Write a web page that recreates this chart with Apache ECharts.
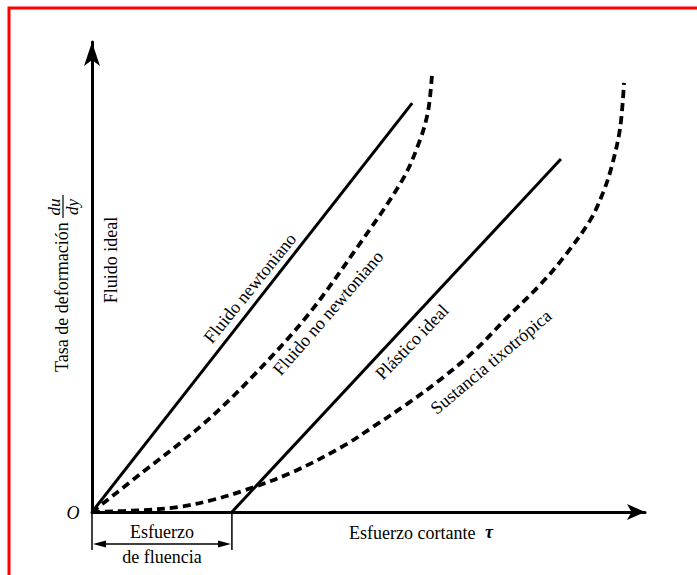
<!DOCTYPE html>
<html><head><meta charset="utf-8">
<script src="https://cdn.jsdelivr.net/npm/echarts/dist/echarts.min.js"></script>
<style>html,body{margin:0;padding:0;background:#fff}#c{width:697px;height:575px}</style>
</head><body><div id="c"></div>
<script>
// ---- data (arbitrary units 0..10) ----
const newtonian = [[0,0],[5.79,8.70]];
const plastic = [[2.53,0],[8.48,7.51]];
const nonNewtonian = [[0,0],[0.92,0.85],[2.01,1.87],[2.91,2.89],[3.89,4.17],[4.79,5.62],[5.61,7.06],[5.93,7.91],[6.08,8.55],[6.15,9.34]];
const thixotropic = [[0,0],[0.92,0.04],[1.59,0.11],[2.19,0.26],[2.73,0.45],[3.63,0.85],[4.54,1.40],[5.08,1.81],[5.70,2.30],[6.29,2.81],[6.89,3.40],[7.50,4.13],[8.10,4.83],[8.55,5.45],[9.01,6.21],[9.24,6.79],[9.40,7.36],[9.55,8.17],[9.62,9.13]];
const curveLabels = ['Fluido newtoniano','Fluido no newtoniano','Plástico ideal','Sustancia tixotrópica'];
const axisTexts = {x:'Esfuerzo cortante ', tau:'τ', y:'Tasa de deformación', origin:'O', ideal:'Fluido ideal', yieldTop:'Esfuerzo', yieldBottom:'de fluencia'};

const FONT = "'Liberation Serif','DejaVu Serif',serif";
const chart = echarts.init(document.getElementById('c'), null, {renderer:'svg'});
const solid = {color:'#000', width:3, type:'solid'};
const dashed = {color:'#000', width:3.8, type:[8,5]};
function ser(name, data, ls, smooth){
  return {name, type:'line', data, symbol:'none', clip:false, smooth, lineStyle:ls, itemStyle:{color:'#000'}, z:3};
}
chart.setOption({
  animation:false,
  grid:{left:92, right:52, top:42, bottom:63},
  xAxis:{type:'value', min:0, max:10, axisLine:{show:true, symbol:['none','arrow'], symbolSize:[12,18], lineStyle:{color:'#000', width:3}}, axisTick:{show:false}, axisLabel:{show:false}, splitLine:{show:false}},
  yAxis:{type:'value', min:0, max:10, axisLine:{show:true, symbol:['none','arrow'], symbolSize:[12,24], lineStyle:{color:'#000', width:3}}, axisTick:{show:false}, axisLabel:{show:false}, splitLine:{show:false}},
  series:[
    ser(curveLabels[0], newtonian, solid, false),
    ser(curveLabels[1], nonNewtonian, dashed, 0.35),
    ser(curveLabels[2], plastic, solid, false),
    ser(curveLabels[3], thixotropic, dashed, 0.35)
  ]
});

// annotations positioned from the axes' scales
const o = chart.convertToPixel({gridIndex:0}, [0,0]);
const ys = chart.convertToPixel({gridIndex:0}, [plastic[0][0],0]);
const deg = Math.PI/180;
function txt(text, x, y, rot, size, extra){
  return {type:'text', x, y, rotation:rot||0, z:10,
    style:{text, font:(extra&&extra.font)||(size+'px '+FONT), fill:'#000', align:(extra&&extra.align)||'center', verticalAlign:'middle'}};
}
const bY = o[1]+32, bEnd = o[1]+38;
const g = [
  {type:'rect', shape:{x:9, y:8, width:720, height:620}, style:{fill:'none', stroke:'#ff0000', lineWidth:3}, z:20},
  txt(axisTexts.origin, o[0]-19, o[1]+1, 0, 18, {font:'italic 18px '+FONT}),
  txt(axisTexts.x, 349, 533, 0, 18, {align:'left'}),
  txt(axisTexts.tau, 489, 532, 0, 18, {font:'italic bold 18px '+FONT}),
  txt(axisTexts.ideal, 111, 260, 90*deg, 18),
  txt(curveLabels[0], 250, 288, 51*deg, 18),
  txt(curveLabels[1], 328, 313, 49*deg, 18),
  txt(curveLabels[2], 412, 342, 46*deg, 18),
  txt(curveLabels[3], 491, 362, 40*deg, 18),
  txt(axisTexts.yieldTop, (o[0]+ys[0])/2, o[1]+20, 0, 18),
  txt(axisTexts.yieldBottom, (o[0]+ys[0])/2, o[1]+45, 0, 18),
  {type:'line', shape:{x1:o[0], y1:o[1], x2:o[0], y2:bEnd}, style:{stroke:'#000', lineWidth:1.5}},
  {type:'line', shape:{x1:ys[0], y1:o[1], x2:ys[0], y2:bEnd}, style:{stroke:'#000', lineWidth:1.5}},
  {type:'line', shape:{x1:o[0]+6, y1:bY, x2:ys[0]-6, y2:bY}, style:{stroke:'#000', lineWidth:1.5}},
  {type:'polygon', shape:{points:[[o[0]+1,bY],[o[0]+14,bY-3.5],[o[0]+14,bY+3.5]]}, style:{fill:'#000'}},
  {type:'polygon', shape:{points:[[ys[0]-1,bY],[ys[0]-14,bY-3.5],[ys[0]-14,bY+3.5]]}, style:{fill:'#000'}},
  {type:'group', x:62, y:372, rotation:90*deg, children:[
    {type:'text', x:0, y:0, style:{text:axisTexts.y, font:'18px '+FONT, fill:'#000', align:'left', verticalAlign:'middle'}},
    {type:'text', x:165, y:-8, style:{text:'du', font:'italic 17px '+FONT, fill:'#000', align:'center', verticalAlign:'middle'}},
    {type:'line', shape:{x1:154, y1:1, x2:177, y2:1}, style:{stroke:'#000', lineWidth:1.2}},
    {type:'text', x:165, y:10, style:{text:'dy', font:'italic 17px '+FONT, fill:'#000', align:'center', verticalAlign:'middle'}}
  ]}
];
chart.setOption({graphic:{elements:g}});
</script></body></html>
